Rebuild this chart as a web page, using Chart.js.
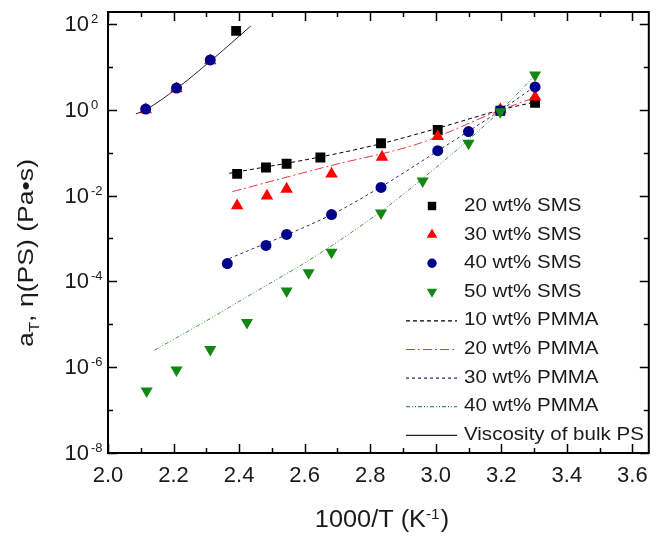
<!DOCTYPE html>
<html>
<head>
<meta charset="utf-8">
<script src="https://cdn.jsdelivr.net/npm/chart.js@4.4.0/dist/chart.umd.min.js"></script>
<style>
  html, body { margin: 0; padding: 0; background: #fff; }
  #wrap { width: 656px; height: 538px; }
</style>
</head>
<body>
<div id="wrap"><canvas id="c" width="656" height="538"></canvas></div>
<script>
// data (x = 1000/T, y = aT or viscosity)
const sms20X = [2.391, 2.394, 2.482, 2.545, 2.648, 2.833, 3.006, 3.197, 3.303];
const sms20Y = [69, 0.032, 0.045, 0.055, 0.077, 0.166, 0.34, 0.95, 1.46];

const sms30X = [2.115, 2.209, 2.312, 2.394, 2.485, 2.545, 2.682, 2.836, 3.006, 3.197, 3.303];
const sms30Y = [1.0, 3.1, 14, 0.0058, 0.0098, 0.0142, 0.032, 0.079, 0.24, 1.0, 2.0];

const sms40X = [2.115, 2.209, 2.312, 2.364, 2.482, 2.545, 2.682, 2.833, 3.006, 3.1, 3.197, 3.303];
const sms40Y = [1.04, 3.2, 14.5, 2.6e-4, 6.9e-4, 1.24e-3, 3.6e-3, 0.0155, 0.111, 0.31, 0.95, 3.4];

const sms50X = [2.118, 2.209, 2.312, 2.424, 2.545, 2.612, 2.682, 2.833, 2.96, 3.1, 3.197, 3.303];
const sms50Y = [2.8e-7, 8.6e-7, 2.6e-6, 1.1e-5, 6e-5, 1.6e-4, 4.8e-4, 3.9e-3, 0.022, 0.165, 0.9, 6.5];

const pmma10X = [2.37, 2.65, 2.83, 3.0, 3.2, 3.3];
const pmma10Y = [0.033, 0.08, 0.16, 0.36, 1.0, 1.5];

const pmma20X = [2.38, 2.68, 2.945, 3.2, 3.3];
const pmma20Y = [0.0124, 0.05, 0.16, 1.0, 1.9];

const pmma30X = [2.37, 2.682, 2.833, 3.006, 3.2, 3.3];
const pmma30Y = [3.4e-4, 3.6e-3, 0.016, 0.11, 1.0, 3.4];

const pmma40X = [2.142, 2.315, 2.42, 2.636, 2.845, 2.96, 3.1, 3.2, 3.3];
const pmma40Y = [2.5e-6, 1.4e-5, 4.2e-5, 4e-4, 5e-3, 0.025, 0.2, 1.0, 6];

const bulkPsX = [2.085, 2.115, 2.209, 2.312, 2.391, 2.436];
const bulkPsY = [0.8, 1.0, 3.1, 13.5, 45, 90];

const xTickValues = [2.0, 2.2, 2.4, 2.6, 2.8, 3.0, 3.2, 3.4, 3.6];
const yTickExponents = [2, 0, -2, -4, -6, -8];

const FONT = '"Liberation Sans", Arial, sans-serif';

function pts(xs, ys) {
    return xs.map((v, i) => ({ x: v, y: ys[i] }));
}

function markers(label, xs, ys, style, color, radius, rotation, order) {
    return {
        label: label,
        data: pts(xs, ys),
        showLine: false,
        pointStyle: style,
        pointRotation: rotation,
        pointRadius: radius,
        pointHoverRadius: radius,
        pointBackgroundColor: color,
        pointBorderColor: color,
        pointBorderWidth: 0,
        backgroundColor: color,
        borderColor: color,
        order: order
    };
}

function curve(label, xs, ys, color, dash, order) {
    return {
        label: label,
        data: pts(xs, ys),
        showLine: true,
        pointRadius: 0,
        borderColor: color,
        borderWidth: 1,
        borderDash: dash,
        tension: 0.4,
        cubicInterpolationMode: 'monotone',
        fill: false,
        order: order
    };
}

// draw text stretched horizontally
function wideText(ctx, text, x, y, sx) {
    ctx.save();
    ctx.translate(x, y);
    ctx.scale(sx, 1);
    ctx.fillText(text, 0, 0);
    ctx.restore();
}

const framePlugin = {
    id: 'framePlugin',
    afterDatasetsDraw(chart) {
        const { ctx, chartArea: a, scales } = chart;
        const xs = scales.x, ys = scales.y;
        ctx.save();
        ctx.strokeStyle = '#000';
        ctx.lineWidth = 1.5;
        ctx.beginPath();
        for (let i = 0; i <= 16; i++) {
            const px = Math.round(xs.getPixelForValue(2 + i * 0.1)) + 0.5;
            const len = i % 2 === 0 ? 9 : 5;
            ctx.moveTo(px, a.bottom); ctx.lineTo(px, a.bottom - len);
            ctx.moveTo(px, a.top); ctx.lineTo(px, a.top + len);
        }
        for (let e = -8; e <= 2; e++) {
            const py = Math.round(ys.getPixelForValue(Math.pow(10, e))) + 0.5;
            const len = e % 2 === 0 ? 9 : 5;
            ctx.moveTo(a.left, py); ctx.lineTo(a.left + len, py);
            ctx.moveTo(a.right, py); ctx.lineTo(a.right - len, py);
        }
        ctx.stroke();
        ctx.lineWidth = 2;
        ctx.strokeRect(a.left, a.top, a.right - a.left, a.bottom - a.top);

        // tick labels
        ctx.fillStyle = '#1a1a1a';
        ctx.font = '22px ' + FONT;
        ctx.textAlign = 'center';
        ctx.textBaseline = 'middle';
        xTickValues.forEach(v => {
            ctx.fillText(v.toFixed(1), xs.getPixelForValue(v), 476);
        });
        yTickExponents.forEach(e => {
            const py = ys.getPixelForValue(Math.pow(10, e));
            ctx.font = '22px ' + FONT;
            ctx.textAlign = 'right';
            ctx.textBaseline = 'middle';
            ctx.fillText('10', 89, py + 1);
            ctx.font = '13px ' + FONT;
            ctx.textAlign = 'left';
            ctx.textBaseline = 'alphabetic';
            ctx.fillText(String(e), 91, py - 1);
        });

        // x axis title: 1000/T (K^-1)
        ctx.textAlign = 'left';
        ctx.textBaseline = 'alphabetic';
        const sx = 1.1;
        ctx.font = '23px ' + FONT;
        const w1 = ctx.measureText('1000/T (K').width;
        const w3 = ctx.measureText(')').width;
        ctx.font = '14px ' + FONT;
        const w2 = ctx.measureText('-1').width;
        let x0 = 382 - (w1 + w2 + w3 + 1) * sx / 2;
        ctx.font = '23px ' + FONT;
        wideText(ctx, '1000/T (K', x0, 527, sx);
        ctx.font = '14px ' + FONT;
        wideText(ctx, '-1', x0 + w1 * sx, 519, sx);
        ctx.font = '23px ' + FONT;
        wideText(ctx, ')', x0 + (w1 + w2 + 1) * sx, 527, sx);

        // y axis title: a_T, η(PS) (Pa•s)
        ctx.save();
        ctx.translate(33, 347);
        ctx.rotate(-Math.PI / 2);
        ctx.font = '22px ' + FONT;
        const wa = ctx.measureText('a').width;
        const wr = ctx.measureText(', \u03b7(PS) (Pa\u2022s)').width;
        ctx.font = '14px ' + FONT;
        const wt = ctx.measureText('T').width;
        const sy = 188 / (wa + wt + wr);
        ctx.font = '22px ' + FONT;
        wideText(ctx, 'a', 0, 0, sy);
        ctx.font = '14px ' + FONT;
        wideText(ctx, 'T', wa * sy, 6, sy);
        ctx.font = '22px ' + FONT;
        wideText(ctx, ', \u03b7(PS) (Pa\u2022s)', (wa + wt) * sy, 0, sy);
        ctx.restore();

        // legend inside the plot
        const rowY0 = 206, rowStep = 28.6;
        ctx.font = '18px ' + FONT;
        ctx.textBaseline = 'middle';
        chart.data.datasets.forEach((ds, i) => {
            const ry = rowY0 + i * rowStep;
            if (ds.showLine) {
                ctx.save();
                ctx.strokeStyle = ds.borderColor;
                ctx.lineWidth = 1.2;
                ctx.setLineDash(ds.borderDash || []);
                ctx.beginPath();
                ctx.moveTo(406, ry + 0.5);
                ctx.lineTo(457, ry + 0.5);
                ctx.stroke();
                ctx.restore();
            } else {
                ctx.save();
                ctx.fillStyle = ds.pointBackgroundColor;
                ctx.strokeStyle = ds.pointBackgroundColor;
                Chart.helpers.drawPoint(ctx, {
                    pointStyle: ds.pointStyle,
                    rotation: ds.pointRotation || 0,
                    radius: ds.pointRadius * 0.85,
                    borderWidth: 0
                }, 432, ry);
                ctx.restore();
            }
            ctx.fillStyle = '#1a1a1a';
            wideText(ctx, ds.label, 464, ry, 1.14);
        });
        ctx.restore();
    }
};

new Chart(document.getElementById('c'), {
    type: 'scatter',
    data: {
        datasets: [
            markers('20 wt% SMS', sms20X, sms20Y, 'rect', '#000000', 7, 0, 4),
            markers('30 wt% SMS', sms30X, sms30Y, 'triangle', '#ff0000', 7.2, 0, 3),
            markers('40 wt% SMS', sms40X, sms40Y, 'circle', '#00008b', 5.5, 0, 2),
            markers('50 wt% SMS', sms50X, sms50Y, 'triangle', '#118811', 7, 180, 1),
            curve('10 wt% PMMA', pmma10X, pmma10Y, '#000000', [4, 3], 6),
            curve('20 wt% PMMA', pmma20X, pmma20Y, 'rgb(225,60,60)', [9, 3, 2, 3], 6),
            curve('30 wt% PMMA', pmma30X, pmma30Y, '#2b2b88', [3, 3], 6),
            curve('40 wt% PMMA', pmma40X, pmma40Y, '#3b973b', [4, 2, 1, 2, 1, 2], 6),
            curve('Viscosity of bulk PS', bulkPsX, bulkPsY, '#222222', [], 6)
        ]
    },
    options: {
        responsive: false,
        animation: false,
        layout: { padding: { left: 108, top: 12, right: 2, bottom: 85 } },
        scales: {
            x: { type: 'linear', display: false, min: 2.0, max: 3.65 },
            y: { type: 'logarithmic', display: false, min: 1e-8, max: 190 }
        },
        plugins: {
            legend: { display: false },
            tooltip: { enabled: false }
        }
    },
    plugins: [framePlugin]
});
</script>
</body>
</html>
